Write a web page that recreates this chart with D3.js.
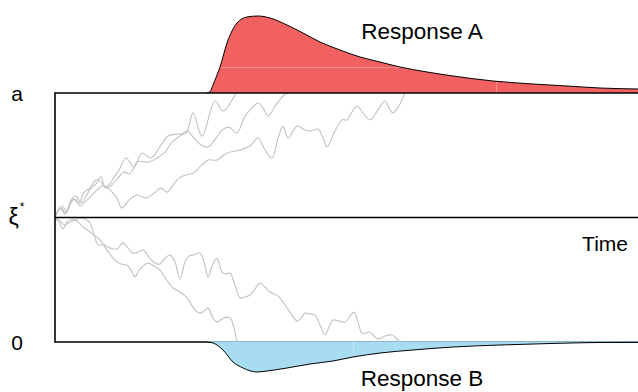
<!DOCTYPE html>
<html>
<head>
<meta charset="utf-8">
<script src="https://cdn.jsdelivr.net/npm/d3@7"></script>
<style>
  html, body { margin: 0; padding: 0; background: #fff; }
  svg { display: block; font-family: "Liberation Sans", Arial, Helvetica, sans-serif; }
</style>
</head>
<body>
<svg id="chart" width="638" height="392"></svg>
<script>
// ---- Drift-diffusion model: evidence (0..a, in % of a) over time (ms) ----
const timeMax = 1166;
const evidenceTicks = [0, 50, 100];
const evidenceTickLabels = ["0", "ξ*", "a"];
const axisTitle = "Time";

// Sample evidence trajectories [time ms, evidence %]
const walkA1 = [[0,50],[12,53.8],[22,51.8],[32,57],[42,58.6],[52,55.8],[62,58.6],[72,61.8],[82,63.5],[92,66.3],[100,62.2],[110,63.5],[118,66.3],[128,69.1],[142,73.9],[158,70.3],[174,75.9],[192,73.9],[212,79.1],[226,82.7],[244,83.5],[262,83.9],[276,92.0],[294,82.7],[320,96.8],[336,92.8],[362,100]];
const walkA2 = [[0,50],[14,54.6],[24,52.6],[36,57.4],[48,55.8],[58,60.2],[70,61.8],[82,65.1],[92,64.3],[102,61.8],[114,63.1],[126,65.9],[138,68.3],[148,67.5],[158,69.9],[164,72.3],[188,72.3],[204,73.9],[220,76.3],[234,80.3],[250,82.7],[264,84.7],[278,81.9],[292,79.1],[306,78.3],[322,81.9],[334,85.1],[348,86.3],[364,83.9],[378,90.0],[390,93.2],[406,96.0],[416,94.0],[426,90.8],[442,95.2],[456,98.8],[464,100]];
const walkA3 = [[0,50],[10,53.8],[20,51.4],[30,55.4],[40,57.4],[50,54.6],[60,56.2],[72,58.6],[84,61],[94,62.7],[104,62.2],[114,60.2],[124,57.8],[134,53.8],[148,57],[164,59],[182,57.8],[198,59.8],[212,61.8],[224,60.2],[238,63.5],[248,65.9],[262,67.1],[276,67.9],[290,70.3],[306,73.1],[324,73.1],[344,75.9],[370,77.1],[390,78.7],[406,81.9],[420,77.1],[434,73.9],[446,81.9],[456,86.7],[466,81.9],[484,86.7],[500,85.1],[510,84.7],[526,85.5],[536,81.9],[544,78.3],[558,83.9],[574,89.2],[584,89.2],[594,92.4],[604,94.8],[616,92],[630,89.2],[646,93.2],[660,96.8],[670,93.2],[676,92],[690,95.6],[700,100]];
const walkB1 = [[0,50],[10,47.4],[16,45.4],[24,48.2],[34,49.4],[44,48.6],[56,46.2],[70,44.2],[80,42.6],[90,41.0],[104,36.9],[120,32.9],[132,31.3],[144,30.9],[152,28.9],[160,26.1],[168,28.9],[174,30.1],[186,31.7],[198,30.5],[210,28.9],[222,25.3],[236,21.7],[250,20.1],[264,17.7],[280,12.9],[290,11.6],[298,12.4],[306,13.7],[316,9.6],[324,8.0],[334,9.2],[344,10.0],[352,9.2],[358,5.6],[364,0]];
const walkB2 = [[0,50],[12,48.2],[20,47.0],[30,48.2],[40,49.0],[50,49.8],[60,49.4],[70,47.8],[78,43.0],[86,39.0],[98,39.0],[110,37.8],[124,37.3],[136,39.8],[146,37.8],[156,35.7],[166,36.1],[176,36.9],[188,34.1],[200,31.7],[210,31.3],[220,33.7],[230,34.9],[240,32.1],[250,25.3],[260,32.1],[268,34.5],[276,34.9],[290,35.7],[298,32.1],[306,26.1],[314,30.5],[324,33.7],[334,28.1],[342,27.3],[350,27.7],[360,22.9],[370,17.7],[380,18.1],[390,18.9],[400,21.3],[410,23.7],[420,22.1],[430,20.1],[446,18.5],[456,16.1],[470,12.0],[484,8.4],[492,9.6],[500,11.6],[510,11.2],[520,10.8],[530,6.8],[540,2.8],[548,6.0],[556,8.8],[568,8.4],[580,8.0],[590,10.4],[598,12.0],[606,8.0],[614,3.6],[622,3.6],[630,4.0],[638,2.4],[646,1.2],[660,2.4],[674,2.8],[682,1.6],[690,0]];

// Response-time densities for each boundary
const rtTimesA = [304,310,316,324,330,344,364,384,406,430,464,496,530,570,610,650,690,744,796,876,956,1024,1090,1166];
const rtDensityA = [0,0.016,0.1,0.225,0.325,0.625,0.875,0.95,0.9625,0.9375,0.85,0.75,0.6375,0.5375,0.45,0.3875,0.325,0.2625,0.2125,0.15,0.1125,0.0875,0.0625,0.05];
const rtTimesB = [304,316,336,356,376,404,424,464,510,556,596,650,716,796,890,990,1090,1166];
const rtDensityB = [0,0.0125,0.1,0.25,0.325,0.375,0.3625,0.325,0.275,0.2375,0.1875,0.1375,0.1,0.0625,0.0375,0.019,0.006,0.004];
const responseLabels = ["Response A", "Response B"];

// ---- layout ----
const W = 638, H = 392;
const margin = { top: 93, right: 0, bottom: 50, left: 55 };
const svg = d3.select("#chart");

const x = d3.scaleLinear().domain([0, timeMax]).range([margin.left, W - margin.right]);
const y = d3.scaleLinear().domain([0, 100]).range([H - margin.bottom, margin.top]);
const dens = d3.scaleLinear().domain([0, 1]).range([0, 80]);

const colA = "#f26161", colB = "#a8dcf1";

// clip for trajectories
svg.append("clipPath").attr("id", "plotClip")
  .append("rect")
  .attr("x", x(0)).attr("y", y(100))
  .attr("width", x(timeMax) - x(0)).attr("height", y(0) - y(100));

// ---- density A (above the upper boundary) ----
const densA = rtTimesA.map((t, i) => [t, rtDensityA[i]]);
const areaA = d3.area().curve(d3.curveMonotoneX)
  .x(d => x(d[0])).y0(y(100)).y1(d => y(100) - dens(d[1]));
const lineA = d3.line().curve(d3.curveMonotoneX)
  .x(d => x(d[0])).y(d => y(100) - dens(d[1]));

svg.append("clipPath").attr("id", "clipA").append("path").attr("d", areaA(densA));
svg.append("path").attr("d", areaA(densA)).attr("fill", colA);
const seamsA = svg.append("g").attr("clip-path", "url(#clipA)")
  .attr("stroke", "rgba(255,255,255,0.3)").attr("stroke-width", 1);
seamsA.append("line").attr("x1", x(0)).attr("x2", x(timeMax))
  .attr("y1", y(100) - dens(0.325) + 0.5).attr("y2", y(100) - dens(0.325) + 0.5);
seamsA.append("line").attr("x1", x(882) + 0.5).attr("x2", x(882) + 0.5)
  .attr("y1", 0).attr("y2", y(100));
svg.append("path").attr("d", lineA(densA)).attr("fill", "none")
  .attr("stroke", "#000").attr("stroke-width", 1);

// ---- boundaries ----
const frame = svg.append("g").attr("stroke", "#000").attr("stroke-width", 1.6).attr("fill", "none");
frame.append("line").attr("x1", x(0)).attr("x2", x(timeMax)).attr("y1", y(0)).attr("y2", y(0));

// ---- density B (below the lower boundary) ----
const densB = rtTimesB.map((t, i) => [t, rtDensityB[i]]);
const areaB = d3.area().curve(d3.curveMonotoneX)
  .x(d => x(d[0])).y0(y(0) - 0.8).y1(d => y(0) + dens(d[1]));
const lineB = d3.line().curve(d3.curveMonotoneX)
  .x(d => x(d[0])).y(d => y(0) + dens(d[1]));
svg.append("clipPath").attr("id", "clipB").append("path").attr("d", areaB(densB));
svg.append("path").attr("d", areaB(densB)).attr("fill", colB);
svg.append("g").attr("clip-path", "url(#clipB)")
  .append("line").attr("x1", x(596) + 0.5).attr("x2", x(596) + 0.5)
  .attr("y1", y(0) - 2).attr("y2", H)
  .attr("stroke", "rgba(255,255,255,0.35)").attr("stroke-width", 1);
svg.append("path").attr("d", lineB(densB)).attr("fill", "none")
  .attr("stroke", "#000").attr("stroke-width", 1);

// ---- trajectories ----
const walkLine = d3.line().curve(d3.curveCatmullRom.alpha(0.5))
  .x(d => x(d[0])).y(d => y(d[1]));
svg.append("g").attr("clip-path", "url(#plotClip)")
  .selectAll("path").data([walkA1, walkA2, walkA3, walkB1, walkB2]).join("path")
  .attr("d", walkLine).attr("fill", "none")
  .attr("stroke", "#c2c2c2").attr("stroke-width", 1.1);

// remaining boundary lines on top
const frame2 = svg.append("g").attr("stroke", "#000").attr("stroke-width", 1.6).attr("fill", "none");
frame2.append("line").attr("x1", x(0)).attr("x2", x(timeMax)).attr("y1", y(100)).attr("y2", y(100));
frame2.append("line").attr("x1", x(0)).attr("x2", x(timeMax)).attr("y1", y(50)).attr("y2", y(50));
frame2.append("line").attr("x1", x(0)).attr("x2", x(0)).attr("y1", y(100) - 0.8).attr("y2", y(0) + 0.8);

// ---- labels ----
const labels = svg.append("g").attr("fill", "#000").attr("font-size", 21);
evidenceTicks.forEach((v, i) => {
  const lab = evidenceTickLabels[i];
  const t = labels.append("text").attr("x", 17).attr("y", y(v) + 7.5).attr("text-anchor", "middle");
  if (lab.endsWith("*")) {
    t.attr("font-size", 23).attr("x", 16.5).attr("y", y(v) + 7);
    t.append("tspan").text(lab.slice(0, -1));
    t.append("tspan").attr("font-size", 12).attr("dy", -14).attr("dx", 1).text("*");
  } else {
    t.text(lab);
  }
});
labels.append("text").attr("x", 628).attr("y", y(50) + 33).attr("text-anchor", "end").text(axisTitle);
labels.append("text").attr("x", 422).attr("y", 38.5).attr("text-anchor", "middle")
  .attr("font-size", 22.5).text(responseLabels[0]);
labels.append("text").attr("x", 422).attr("y", 386).attr("text-anchor", "middle")
  .attr("font-size", 22.5).text(responseLabels[1]);
</script>
</body>
</html>
